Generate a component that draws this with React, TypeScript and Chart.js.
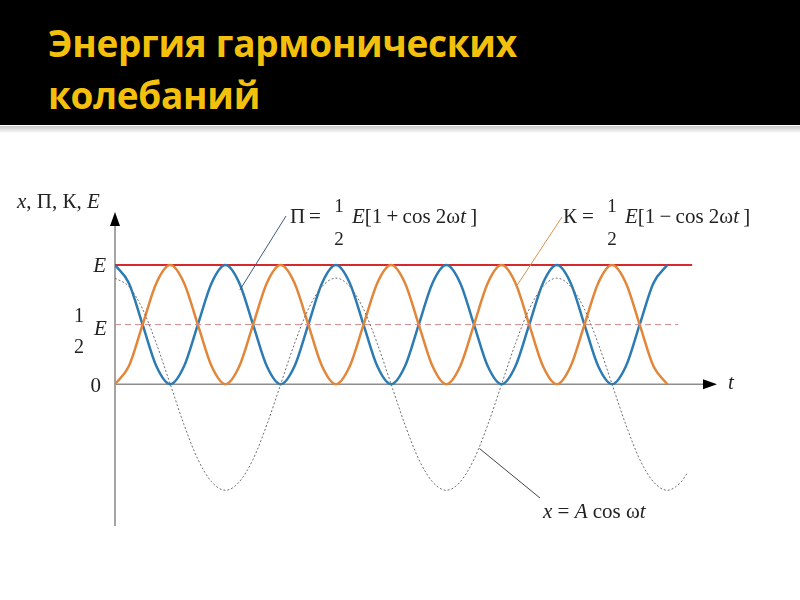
import React, {useEffect, useRef} from "react";
import {Chart, registerables} from "chart.js";

Chart.register(...registerables);

// time grid, in quarters of the x = A cos wt period
const tValues = [
    0, 0.25, 0.5, 0.75, 1, 1.25, 1.5, 1.75, 2, 2.25, 2.5, 2.75, 3, 3.25, 3.5, 3.75,
    4, 4.25, 4.5, 4.75, 5, 5.25, 5.5, 5.75, 6, 6.25, 6.5, 6.75, 7, 7.25, 7.5, 7.75,
    8, 8.25, 8.5, 8.75, 9, 9.25, 9.5, 9.75, 10,
];
// potential energy П (units of E)
const potentialValues = [
    1, 0.85, 0.5, 0.15, 0, 0.15, 0.5, 0.85,
    1, 0.85, 0.5, 0.15, 0, 0.15, 0.5, 0.85,
    1, 0.85, 0.5, 0.15, 0, 0.15, 0.5, 0.85,
    1, 0.85, 0.5, 0.15, 0, 0.15, 0.5, 0.85,
    1, 0.85, 0.5, 0.15, 0, 0.15, 0.5, 0.85,
    1,
];
// kinetic energy K (units of E)
const kineticValues = [
    0, 0.15, 0.5, 0.85, 1, 0.85, 0.5, 0.15,
    0, 0.15, 0.5, 0.85, 1, 0.85, 0.5, 0.15,
    0, 0.15, 0.5, 0.85, 1, 0.85, 0.5, 0.15,
    0, 0.15, 0.5, 0.85, 1, 0.85, 0.5, 0.15,
    0, 0.15, 0.5, 0.85, 1, 0.85, 0.5, 0.15,
    0,
];
// displacement x (dotted), runs a little past the energy curves
const dispTimes = [...tValues, 10.25, 10.37];
const dispValues = [
    0.89, 0.82, 0.63, 0.34, 0, -0.34, -0.63, -0.82,
    -0.89, -0.82, -0.63, -0.34, 0, 0.34, 0.63, 0.82,
    0.89, 0.82, 0.63, 0.34, 0, -0.34, -0.63, -0.82,
    -0.89, -0.82, -0.63, -0.34, 0, 0.34, 0.63, 0.82,
    0.89, 0.82, 0.63, 0.34, 0, -0.34, -0.63, -0.82,
    -0.89, -0.82, -0.74,
];
const totalTimes = [0, 10.45];
const totalValues = [1, 1];
const halfTimes = [0, 10.2];
const halfValues = [0.5, 0.5];

const SERIF = '"Liberation Serif", "Times New Roman", serif';

type Part = [string, boolean];

function drawRich(ctx: CanvasRenderingContext2D, parts: Part[], x: number, y: number, size: number) {
    let cx = x;
    ctx.textAlign = 'left';
    parts.forEach(([text, italic]) => {
        ctx.font = `${italic ? 'italic ' : ''}${size}px ${SERIF}`;
        ctx.fillText(text, cx, y);
        cx += ctx.measureText(text).width;
    });
}

function drawFormula(ctx: CanvasRenderingContext2D, sym: string, sign: string, x: number, y: number) {
    ctx.fillStyle = '#222';
    drawRich(ctx, [[sym, false]], x, y, 21);
    drawRich(ctx, [['=', false]], x + 19, y, 21);
    ctx.textAlign = 'center';
    ctx.font = `19px ${SERIF}`;
    ctx.fillText('1', x + 49, y - 11);
    ctx.fillText('2', x + 49, y + 22);
    drawRich(ctx, [['E', true], [`[1\u2009${sign}\u2009cos 2ω`, false], ['t', true], ['\u2009]', false]], x + 62, y, 21);
}

function leader(ctx: CanvasRenderingContext2D, x1: number, y1: number, x2: number, y2: number, color: string) {
    ctx.strokeStyle = color;
    ctx.lineWidth = 1;
    ctx.setLineDash([]);
    ctx.beginPath();
    ctx.moveTo(x1, y1);
    ctx.lineTo(x2, y2);
    ctx.stroke();
}

const decorPlugin = {
    id: 'decor',
    beforeDatasetsDraw(chart: Chart) {
        const {ctx} = chart;
        const xs = chart.scales.x;
        const ys = chart.scales.y;
        const x0 = xs.getPixelForValue(0);
        const y0 = ys.getPixelForValue(0);
        const yTop = ys.getPixelForValue(ys.max);
        const yBot = ys.getPixelForValue(ys.min);
        const xEnd = xs.getPixelForValue(xs.max);
        ctx.save();
        ctx.strokeStyle = '#8e8e8e';
        ctx.lineWidth = 1.6;
        ctx.beginPath();
        ctx.moveTo(x0, yBot);
        ctx.lineTo(x0, yTop + 10);
        ctx.moveTo(x0, y0);
        ctx.lineTo(xEnd - 10, y0);
        ctx.stroke();
        ctx.fillStyle = '#000';
        ctx.beginPath();
        ctx.moveTo(x0, yTop);
        ctx.lineTo(x0 - 5, yTop + 14);
        ctx.lineTo(x0 + 5, yTop + 14);
        ctx.closePath();
        ctx.fill();
        ctx.beginPath();
        ctx.moveTo(xEnd, y0);
        ctx.lineTo(xEnd - 14, y0 - 5);
        ctx.lineTo(xEnd - 14, y0 + 5);
        ctx.closePath();
        ctx.fill();
        ctx.restore();
    },
    afterDatasetsDraw(chart: Chart) {
        const {ctx} = chart;
        const xs = chart.scales.x;
        const ys = chart.scales.y;
        const x0 = xs.getPixelForValue(0);
        const y0 = ys.getPixelForValue(0);
        const yE = ys.getPixelForValue(1);
        const yH = ys.getPixelForValue(0.5);
        const xEnd = xs.getPixelForValue(xs.max);
        ctx.save();
        ctx.fillStyle = '#222';
        ctx.textBaseline = 'alphabetic';

        // axis names
        drawRich(ctx, [['x', true], [', П, К, ', false], ['E', true]], 17, 208, 21);
        drawRich(ctx, [['t', true]], xEnd + 11, y0 + 5, 21);

        // y tick labels
        ctx.textAlign = 'right';
        ctx.font = `italic 21px ${SERIF}`;
        ctx.fillText('E', x0 - 9, yE + 7);
        ctx.font = `21px ${SERIF}`;
        ctx.fillText('0', x0 - 14, y0 + 8);
        ctx.textAlign = 'center';
        ctx.font = `20px ${SERIF}`;
        ctx.fillText('1', x0 - 36, yH - 3);
        ctx.fillText('2', x0 - 36, yH + 28);
        drawRich(ctx, [['E', true]], x0 - 21, yH + 10, 21);

        // formulas with leader lines
        drawFormula(ctx, 'П', '+', 290, 223);
        drawFormula(ctx, 'К', '−', 563, 223);
        drawRich(ctx, [['x', true], [' = ', false], ['A', true], [' cos ω', false], ['t', true]], 543, 518, 21);

        leader(ctx, 286, 216, xs.getPixelForValue(2.26), ys.getPixelForValue(0.79), '#3b5a78');
        leader(ctx, 562, 217, xs.getPixelForValue(7.28), ys.getPixelForValue(0.83), '#d9914c');
        leader(ctx, 540, 498, xs.getPixelForValue(6.6), ys.getPixelForValue(-0.54), '#444');
        ctx.restore();
    },
};

const toPoints = (ts: number[], vs: number[]) => ts.map((t, i) => ({x: t, y: vs[i]}));

const EnergyChart: React.FC = () => {
    const canvasRef = useRef<HTMLCanvasElement>(null);

    useEffect(() => {
        if (!canvasRef.current) return;
        const ctx = canvasRef.current.getContext('2d');
        if (!ctx) return;

        const chart = new Chart(ctx, {
            type: 'line',
            data: {
                datasets: [
                    {
                        label: 'x',
                        data: toPoints(dispTimes, dispValues),
                        borderColor: '#6d6d6d',
                        borderWidth: 1,
                        borderDash: [2, 2],
                        cubicInterpolationMode: 'monotone',
                    },
                    {
                        label: 'E/2',
                        data: toPoints(halfTimes, halfValues),
                        borderColor: '#cf8a8a',
                        borderWidth: 1,
                        borderDash: [6, 4],
                    },
                    {
                        label: 'K',
                        data: toPoints(tValues, kineticValues),
                        borderColor: '#e2863a',
                        borderWidth: 2.5,
                        cubicInterpolationMode: 'monotone',
                    },
                    {
                        label: 'П',
                        data: toPoints(tValues, potentialValues),
                        borderColor: '#2c7bb3',
                        borderWidth: 2.5,
                        cubicInterpolationMode: 'monotone',
                    },
                    {
                        label: 'E',
                        data: toPoints(totalTimes, totalValues),
                        borderColor: '#d62a2a',
                        borderWidth: 2,
                    },
                ],
            },
            options: {
                animation: false,
                responsive: false,
                layout: {
                    padding: {left: 115, right: 83, top: 212, bottom: 74},
                },
                elements: {
                    point: {radius: 0},
                },
                scales: {
                    x: {type: 'linear', min: 0, max: 10.9, display: false},
                    y: {type: 'linear', min: -1.19, max: 1.445, display: false},
                },
                plugins: {
                    legend: {display: false},
                    tooltip: {enabled: false},
                },
            },
            plugins: [decorPlugin],
        });

        return () => {
            chart.destroy();
        };
    }, []);

    return (
        <canvas ref={canvasRef} width={800} height={600}
                style={{position: 'absolute', left: 0, top: 0, width: 800, height: 600}}/>
    );
};

const App: React.FC = () => {
    return (
        <div style={{position: 'absolute', left: 0, top: 0, width: 800, height: 600, background: '#fff', overflow: 'hidden'}}>
            <EnergyChart/>
            <div style={{position: 'absolute', left: 0, top: 0, width: 800, height: 125, background: '#000'}}>
                <div style={{
                    position: 'absolute', left: 48, top: 17,
                    fontFamily: '"Open Sans", sans-serif', fontWeight: 700, fontSize: 37, lineHeight: '52px',
                    letterSpacing: '-0.3px', color: '#f3c10c',
                }}>
                    Энергия гармонических<br/>колебаний
                </div>
            </div>
            <div style={{
                position: 'absolute', left: 0, top: 126, width: 800, height: 7,
                background: 'linear-gradient(to bottom, #c8c8c8, #e6e6e6 60%, #fff)',
            }}/>
        </div>
    );
};

export default App;
